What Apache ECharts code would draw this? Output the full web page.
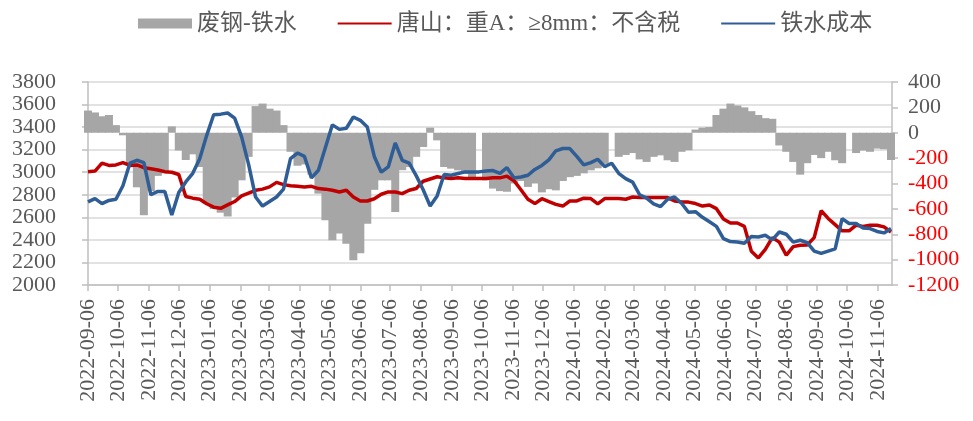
<!DOCTYPE html>
<html>
<head>
<meta charset="utf-8">
<script src="https://cdn.jsdelivr.net/npm/echarts@6/dist/echarts.min.js"></script>
<style>
html,body{margin:0;padding:0;background:#fff;}
#chart{width:973px;height:421px;}
</style>
</head>
<body>
<div id="chart"></div>
<script>
// ---- data (weekly samples starting 2022-09-06) ----
const startDate = '2022-09-06';
const endDate = '2024-11-20';
const stepDays = 7;
const seriesNames = ['废钢-铁水', '唐山：重A：≥8mm：不含税', '铁水成本'];

// 废钢-铁水 (right axis)
const scrapMinusIron = [
  175,160,130,140,60,-20,-250,-430,-650,-460,-340,-320,50,-140,-215,-170,-270,-560,-600,-630,-660,-510,-375,-190,210,230,190,175,60,-150,
  -260,-250,-330,-480,-690,-848,-795,-874,-1005,-950,-717,-450,-375,-375,-625,-295,-270,-190,-112,40,-60,-270,-283,-296,-322,-349,null,-375,
  -440,-460,-465,-400,-380,-427,-400,-470,-445,-454,-380,-350,-340,-320,-296,-280,-245,null,-190,-175,-160,-210,-230,-190,-178,-217,-230,-150,
  -138,25,40,45,140,190,230,215,200,170,140,115,110,-100,-150,-230,-330,-240,-175,-200,-150,-217,-240,null,-160,-140,-150,-125,-130,-215
];
// 唐山：重A：≥8mm：不含税 (left axis)
const tangshanScrap = [
  3005,3010,3080,3060,3065,3085,3060,3065,3040,3030,3020,3005,3000,2980,2785,2770,2760,2720,2690,2680,2710,2740,2790,2815,2840,2850,2870,2910,2890,2880,
  2875,2870,2875,2855,2850,2840,2825,2840,2780,2745,2745,2765,2805,2825,2825,2810,2840,2855,2920,2940,2960,2950,2945,2950,2945,2945,2945,2945,
  2950,2950,2965,2925,2845,2760,2722,2765,2740,2715,2700,2745,2745,2770,2766,2720,2766,2766,2766,2760,2780,2775,2775,2775,2775,2775,2745,2737,
  2735,2722,2700,2710,2677,2585,2550,2550,2520,2300,2240,2315,2420,2380,2264,2340,2353,2355,2420,2660,2590,2535,2480,2480,2530,2520,2530,2530,2515,2470
];
// 铁水成本 (left axis)
const ironCost = [
  2737,2766,2722,2750,2760,2880,3080,3106,3085,2800,2830,2830,2620,2820,2914,2990,3120,3327,3510,3515,3525,3480,3313,3070,2780,2700,2740,2780,2850,3120,
  3170,3140,2950,3017,3220,3420,3380,3390,3490,3460,3400,3140,3000,3047,3260,3106,3080,2970,2845,2700,2790,2980,2973,2988,3003,3003,3003,3010,
  3015,2990,3040,2950,2958,2973,3025,3060,3110,3190,3210,3210,3140,3065,3085,3115,3050,3080,2990,2943,2912,2800,2770,2720,2695,2760,2780,2725,
  2645,2650,2600,2560,2520,2412,2385,2382,2370,2430,2426,2441,2400,2470,2450,2380,2397,2375,2300,2280,2300,2320,2589,2545,2545,2505,2500,2475,2462,2500
];

// ---- x axis: day offset from startDate ----
const DAY = 86400000;
const t0 = Date.parse(startDate + 'T00:00:00Z');
const totalDays = Math.round((Date.parse(endDate + 'T00:00:00Z') - t0) / DAY);
function fmt(dayIdx){
  const d = new Date(t0 + dayIdx * DAY);
  const m = d.getUTCMonth()+1, day = d.getUTCDate();
  return d.getUTCFullYear() + '-' + (m<10?'0':'') + m + '-' + (day<10?'0':'') + day;
}
const tickDays = [];
for (let k = 0; k <= totalDays; k++) if (fmt(k).slice(8) === '06') tickDays.push(k);
function pairs(arr){
  const out = [];
  arr.forEach((v,i)=>{ if (v !== null) out.push([i*stepDays, v]); });
  return out;
}

const serif = "'Liberation Serif','Noto Sans CJK SC',serif";
const chart = echarts.init(document.getElementById('chart'));
chart.setOption({
  animation: false,
  backgroundColor: '#fff',
  legend: {
    left: 133, top: 7,
    itemWidth: 54, itemHeight: 10, itemGap: 40,
    textStyle: { fontFamily: serif, fontSize: 23, color: '#595959' },
    data: [
      { name: seriesNames[0], icon: 'rect' },
      { name: seriesNames[1] },
      { name: seriesNames[2] }
    ]
  },
  grid: { left: 88, right: 81, top: 82, bottom: 136 },
  xAxis: {
    type: 'value', min: 0, max: totalDays,
    axisLine: { show: true, onZero: false, lineStyle: { color: '#BFBFBF', width: 1.5 } },
    axisTick: { show: true, customValues: tickDays, length: 6, lineStyle: { color: '#BFBFBF', width: 1.5 } },
    axisLabel: { customValues: tickDays, formatter: v => fmt(v), rotate: 90, margin: 14, fontFamily: serif, fontSize: 22, color: '#595959' },
    splitLine: { show: false }
  },
  yAxis: [{
    type: 'value', min: 2000, max: 3800, interval: 200,
    axisLine: { show: true, lineStyle: { color: '#BFBFBF', width: 1.5 } },
    axisTick: { show: true, length: 6, lineStyle: { color: '#BFBFBF', width: 1.5 } },
    axisLabel: { margin: 32, fontFamily: serif, fontSize: 22, color: '#595959', formatter: v => String(v) },
    splitLine: { show: true, lineStyle: { color: '#D9D9D9', width: 1.5 } }
  }, {
    type: 'value', min: -1200, max: 400, interval: 200, position: 'right',
    axisLine: { show: true, lineStyle: { color: '#BFBFBF', width: 1.5 } },
    axisTick: { show: true, length: 6, lineStyle: { color: '#BFBFBF', width: 1.5 } },
    axisLabel: {
      margin: 16,
      formatter: v => (v < 0 ? '{n|' + v + '}' : '{p|' + v + '}'),
      rich: {
        n: { color: '#FF0000', fontFamily: serif, fontSize: 22 },
        p: { color: '#595959', fontFamily: serif, fontSize: 22 }
      }
    },
    splitLine: { show: false }
  }],
  series: [{
    name: seriesNames[0], type: 'bar', yAxisIndex: 1,
    data: pairs(scrapMinusIron), barWidth: 8,
    itemStyle: { color: '#A6A6A6' }
  }, {
    name: seriesNames[1], type: 'line', yAxisIndex: 0,
    data: pairs(tangshanScrap), symbol: 'none', showSymbol: false,
    lineStyle: { color: '#C00000', width: 3.5 }, itemStyle: { color: '#C00000', opacity: 0 }
  }, {
    name: seriesNames[2], type: 'line', yAxisIndex: 0,
    data: pairs(ironCost), symbol: 'none', showSymbol: false,
    lineStyle: { color: '#2F5D95', width: 3.5 }, itemStyle: { color: '#2F5D95', opacity: 0 }
  }]
});
</script>
</body>
</html>
